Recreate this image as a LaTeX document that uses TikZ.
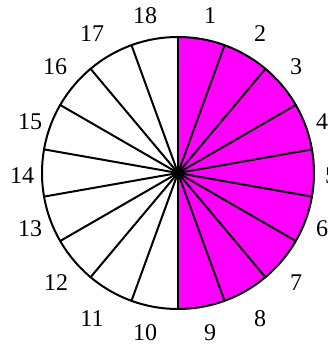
\documentclass[tikz,border=0pt]{standalone}
\usepackage{fontspec}
\setmainfont{Liberation Serif}
\usetikzlibrary{calc}
\definecolor{mag}{HTML}{FF00FF}
\begin{document}
\begin{tikzpicture}[x=1pt,y=1pt,
  lab/.style={inner sep=0pt,font=\fontsize{24}{24}\selectfont},
  spoke/.style={line width=2pt,line cap=round}]
\useasboundingbox (0,0) rectangle (328,348);
\coordinate (O) at (178,175);
\fill[mag] (O) -- ++(90:136) arc[start angle=90,end angle=-90,radius=136] -- cycle;
\foreach \i/\a in {1/90,2/70,3/50,4/30,5/10,6/-10,7/-30,8/-50,9/-70}{
  \coordinate (p\i) at ($(O)+(\a:136)$);
  \coordinate (q\i) at ($(O)+(\a+180:136)$);
  \draw[spoke] (p\i) -- (q\i);
}
\draw[line width=2pt] (O) circle[radius=136];
\fill (O) circle[radius=3];
\node[lab] (l1) at (210,332) {1};
\node[lab] (l2) at (260,314) {2};
\node[lab] (l3) at (296,281) {3};
\node[lab] (l4) at (322,226) {4};
\node[lab] (l5) at (331,172) {5};
\node[lab] (l6) at (322,119) {6};
\node[lab] (l7) at (296,65) {7};
\node[lab] (l8) at (260,29) {8};
\node[lab] (l9) at (210,15) {9};
\node[lab] (l10) at (145,15) {10};
\node[lab] (l11) at (92,29) {11};
\node[lab] (l12) at (56,65) {12};
\node[lab] (l13) at (30,119) {13};
\node[lab] (l14) at (22,172) {14};
\node[lab] (l15) at (30,226) {15};
\node[lab] (l16) at (55,281) {16};
\node[lab] (l17) at (92,314) {17};
\node[lab] (l18) at (145,332) {18};
\end{tikzpicture}
\end{document}
